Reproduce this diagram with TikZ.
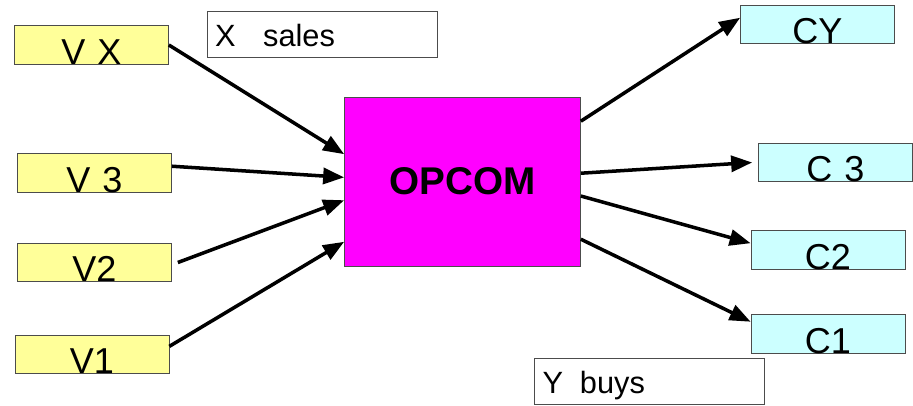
\documentclass[tikz,border=0pt]{standalone}
\usepackage{fontspec}
\setmainfont{Liberation Sans}
\usetikzlibrary{arrows.meta}
\definecolor{sellfill}{HTML}{FFFF99}
\definecolor{buyfill}{HTML}{CCFFFF}
\definecolor{hubfill}{HTML}{FF00FF}
\begin{document}
\begin{tikzpicture}[
	vbox/.style={ draw=black!70, thin, fill=sellfill, inner sep=0pt, text width=3.08cm, align=center, text height=0.77cm, text depth=0pt, font=\fontsize{20.5}{24}\selectfont },
	cbox/.style={ vbox, fill=buyfill },
	hub/.style={ draw=black!70, thin, fill=hubfill, minimum width=4.72cm, minimum height=3.38cm, inner sep=0pt, font=\fontsize{22}{26}\selectfont\bfseries },
	note/.style={ draw=black!70, thin, fill=white, inner xsep=0.16cm, inner ysep=0pt, text width=4.28cm, align=left, text height=0.72cm, text depth=0.2cm, font=\fontsize{17.5}{21}\selectfont },
	flow/.style={ line width=2pt, -{Triangle[length=0.42cm,width=0.32cm]} }
]
\useasboundingbox (0,0) rectangle (18.26,8.12);

\node at (1.83,7.22) (vx) [vbox] {V X};
\node at (1.89,4.66) (v3) [vbox] {V 3};
\node at (1.89,2.87) (v2) [vbox] {V2};
\node at (1.84,1.03) (v1) [vbox] {V1};
\node at (6.44,7.44) (xsales) [note] {X\hspace{0.9em}sales};

\node at (9.25,4.49) (opcom) [hub] {OPCOM};

\node at (16.35,7.63) (cy) [cbox] {CY};
\node at (16.71,4.87) (c3) [cbox] {C 3};
\node at (16.56,3.12) (c2) [cbox] {C2};
\node at (16.56,1.44) (c1) [cbox] {C1};
\node at (12.99,0.50) (ybuys) [note] {Y\hspace{0.55em}buys};

\foreach \p/\q in {vx.east/opcom.167, v3.5/opcom.178, v1.6/opcom.207} \draw[flow] (\p) to (\q);
\draw[flow] ([xshift=0.12cm]v2.east) to (opcom.189);

\foreach \p/\q in {opcom.27/cy.175, opcom.353/c2.175, opcom.334/c1.171} \draw[flow] (\p) to (\q);
\draw[flow] (opcom.4) to ([xshift=-0.12cm]c3.west);

\end{tikzpicture}
\end{document}
